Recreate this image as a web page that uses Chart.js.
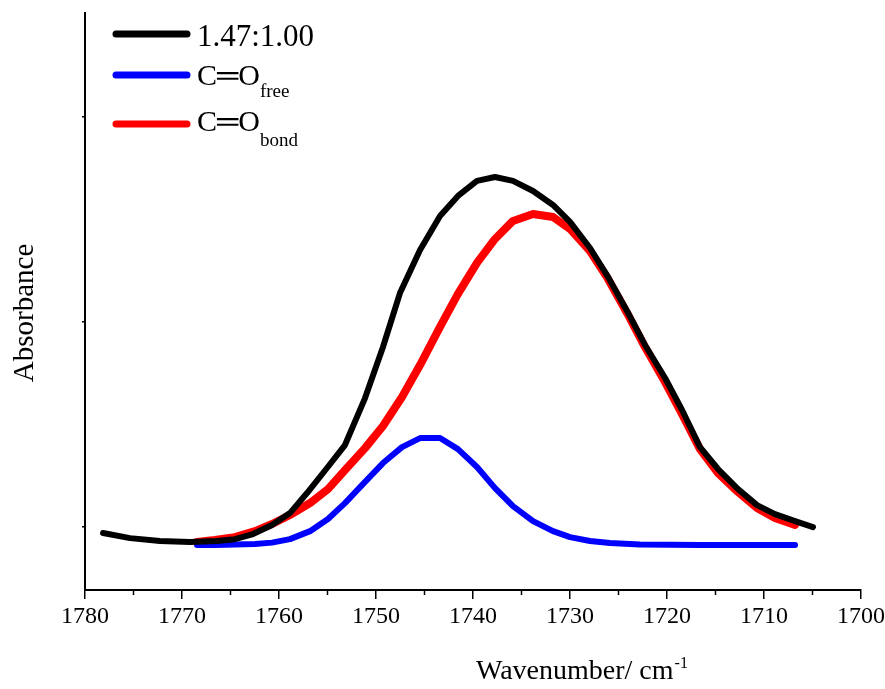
<!DOCTYPE html>
<html>
<head>
<meta charset="utf-8">
<script src="https://cdn.jsdelivr.net/npm/chart.js@4.4.0/dist/chart.umd.min.js"></script>
<style>
  html, body { margin: 0; padding: 0; background: #fff; }
  #wrap { width: 885px; height: 689px; }
</style>
</head>
<body>
<div id="wrap"><canvas id="myChart" width="885" height="689"></canvas></div>
<script>
// measured spectrum (1.47:1.00) and the two fitted carbonyl bands
const blackWave = [1778.14, 1775.36, 1772.27, 1769.18, 1766.40, 1764.54, 1762.68, 1760.72, 1758.87, 1757.11,
                   1755.05, 1753.20, 1751.13, 1749.28, 1747.53, 1745.46, 1743.40, 1741.55, 1739.59, 1737.73,
                   1735.88, 1733.81, 1731.75, 1730.00, 1727.94, 1726.08, 1724.12, 1722.27, 1720.20, 1718.45,
                   1716.60, 1714.74, 1712.68, 1710.72, 1708.87, 1706.80, 1704.95];
const blackAbs = [-0.0029, -0.0054, -0.0068, -0.0073, -0.0068, -0.0059, -0.0034, 0.0010, 0.0068, 0.0166,
                  0.0288, 0.0400, 0.0629, 0.0878, 0.1141, 0.1351, 0.1517, 0.1615, 0.1688, 0.1707,
                  0.1688, 0.1639, 0.1571, 0.1488, 0.1361, 0.1220, 0.1054, 0.0888, 0.0727, 0.0571,
                  0.0390, 0.0283, 0.0185, 0.0107, 0.0063, 0.0029, 0.0000];

const freeWave = [1768.45, 1766.60, 1764.54, 1762.47, 1760.72, 1758.87, 1756.80, 1754.95, 1753.20, 1751.13,
                  1749.28, 1747.32, 1745.46, 1743.40, 1741.55, 1739.59, 1737.73, 1735.88, 1733.81, 1731.75,
                  1730.00, 1727.94, 1725.88, 1722.78, 1716.60, 1706.80];
const freeAbs = [-0.0088, -0.0088, -0.0085, -0.0083, -0.0076, -0.0059, -0.0020, 0.0039, 0.0117, 0.0220,
                 0.0312, 0.0390, 0.0434, 0.0434, 0.0380, 0.0293, 0.0190, 0.0102, 0.0029, -0.0020,
                 -0.0049, -0.0068, -0.0078, -0.0085, -0.0088, -0.0088];

const bondWave = [1768.45, 1766.60, 1764.54, 1762.47, 1760.72, 1758.87, 1756.80, 1754.95, 1753.20, 1751.13,
                  1749.28, 1747.32, 1745.46, 1743.40, 1741.55, 1739.59, 1737.73, 1735.88, 1733.81, 1731.75,
                  1730.00, 1727.94, 1726.08, 1724.12, 1722.27, 1720.20, 1718.45, 1716.60, 1714.74, 1712.68,
                  1710.72, 1708.87, 1706.80];
const bondAbs = [-0.0073, -0.0063, -0.0049, -0.0020, 0.0015, 0.0059, 0.0117, 0.0185, 0.0278, 0.0385,
                 0.0493, 0.0634, 0.0790, 0.0976, 0.1137, 0.1288, 0.1405, 0.1493, 0.1527, 0.1512,
                 0.1454, 0.1346, 0.1210, 0.1044, 0.0878, 0.0707, 0.0551, 0.0380, 0.0263, 0.0171,
                 0.0093, 0.0044, 0.0010];

const xMajorTicks = [1780, 1770, 1760, 1750, 1740, 1730, 1720, 1710, 1700];
const xMinorTicks = [1775, 1765, 1755, 1745, 1735, 1725, 1715, 1705];
const legendLabels = ['1.47:1.00', 'C\u2550O', 'C\u2550O'];
const legendSubs = ['', 'free', 'bond'];
const seriesColors = ['#000000', '#0000ff', '#ff0000'];
const xTitle = 'Wavenumber/ cm';
const yTitle = 'Absorbance';

const serif = '"Liberation Serif", "Times New Roman", serif';

function pairs(xs, ys) {
    return xs.map((x, i) => ({ x: x, y: ys[i] }));
}

const extras = {
    id: 'extras',
    afterDraw(chart) {
        const ctx = chart.ctx;
        const xs = chart.scales.x;
        const area = chart.chartArea;
        ctx.save();
        ctx.strokeStyle = '#000';
        ctx.lineWidth = 1.5;
        xMinorTicks.forEach(v => {
            const px = xs.getPixelForValue(v);
            ctx.beginPath();
            ctx.moveTo(px, area.bottom);
            ctx.lineTo(px, area.bottom + 5);
            ctx.stroke();
        });

        ctx.fillStyle = '#000';
        ctx.textAlign = 'left';
        ctx.textBaseline = 'alphabetic';
        ctx.font = '28px ' + serif;
        ctx.fillText(xTitle, 476, 679);
        const tw = ctx.measureText(xTitle).width;
        ctx.font = '16px ' + serif;
        ctx.fillText('-1', 476 + tw + 1, 668);

        ctx.save();
        ctx.translate(33, 313);
        ctx.rotate(-Math.PI / 2);
        ctx.textAlign = 'center';
        ctx.font = '29px ' + serif;
        ctx.fillText(yTitle, 0, 0);
        ctx.restore();

        // legend
        const rows = [34, 75, 124];
        const base = [46, 85, 131];
        legendLabels.forEach((lab, i) => {
            ctx.strokeStyle = seriesColors[i];
            ctx.lineWidth = 7;
            ctx.lineCap = 'round';
            ctx.beginPath();
            ctx.moveTo(116, rows[i]);
            ctx.lineTo(187, rows[i]);
            ctx.stroke();
            ctx.fillStyle = '#000';
            ctx.font = (i === 0 ? '31px ' : '30px ') + serif;
            ctx.fillText(lab, 197, base[i]);
            if (legendSubs[i]) {
                const w = ctx.measureText(lab).width;
                ctx.font = '19px ' + serif;
                ctx.fillText(legendSubs[i], 197 + w, base[i] + (i === 1 ? 12 : 15));
            }
        });
        ctx.restore();
    }
};

new Chart(document.getElementById('myChart'), {
    type: 'line',
    data: {
        datasets: [
            { label: legendLabels[0], data: pairs(blackWave, blackAbs), borderColor: seriesColors[0], borderWidth: 6, order: 0 },
            { label: 'free', data: pairs(freeWave, freeAbs), borderColor: seriesColors[1], borderWidth: 6, order: 1 },
            { label: 'bond', data: pairs(bondWave, bondAbs), borderColor: seriesColors[2], borderWidth: 8, order: 2 }
        ]
    },
    options: {
        responsive: false,
        animation: false,
        devicePixelRatio: 1,
        layout: { padding: { top: 13, right: 24, left: 0, bottom: 0 } },
        elements: {
            point: { radius: 0 },
            line: { tension: 0, borderJoinStyle: 'round', borderCapStyle: 'round', fill: false }
        },
        plugins: { legend: { display: false }, tooltip: { enabled: false } },
        scales: {
            x: {
                type: 'linear',
                reverse: true,
                min: 1700,
                max: 1780,
                afterFit: s => { s.height = 99; s.paddingLeft = 0; s.paddingRight = 0; },
                afterBuildTicks: s => { s.ticks = xMajorTicks.map(v => ({ value: v })); },
                border: { display: true, color: '#000', width: 2 },
                grid: { drawOnChartArea: false, drawTicks: true, tickLength: 9, color: '#000', tickColor: '#000', lineWidth: 1.5 },
                ticks: { color: '#000', font: { family: serif, size: 24 }, padding: 3, maxRotation: 0, callback: v => String(v) }
            },
            y: {
                min: -0.0307,
                max: 0.2507,
                afterFit: s => { s.width = 85; },
                border: { display: true, color: '#000', width: 2 },
                grid: { drawOnChartArea: false, drawTicks: true, tickLength: 3, color: '#000', tickColor: '#000', lineWidth: 1.5 },
                ticks: { stepSize: 0.1, includeBounds: false, callback: () => '', padding: 0 }
            }
        }
    },
    plugins: [extras]
});
</script>
</body>
</html>
